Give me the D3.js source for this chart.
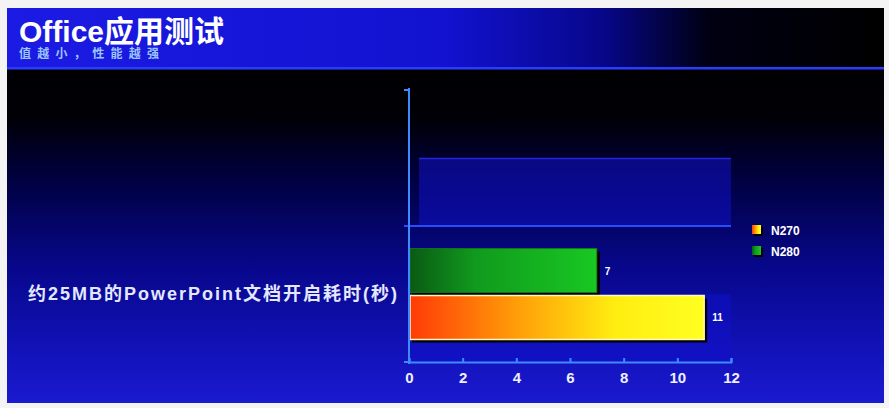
<!DOCTYPE html>
<html><head><meta charset="utf-8">
<script src="https://cdn.jsdelivr.net/npm/d3@7"></script>
<style>html,body{margin:0;padding:0;background:#f4f4f4;overflow:hidden}</style>
</head><body>
<script>
const title = "Office应用测试";
const subtitle = "值越小，性能越强";
const categories = ["", "约25MB的PowerPoint文档开启耗时(秒)"];
const seriesNames = ["N280", "N270"];
const n280 = [null, 7];
const n270 = [null, 11];
const legendOrder = ["N270", "N280"];
const xTicks = [0, 2, 4, 6, 8, 10, 12];

const W = 889, H = 408;
const svg = d3.select("body").append("svg").attr("width", W).attr("height", H)
  .style("font-family", "'Liberation Sans', Arial, 'Noto Sans CJK SC', sans-serif");
const defs = svg.append("defs");

function lin(id, x1, y1, x2, y2, stops) {
  const g = defs.append("linearGradient").attr("id", id)
    .attr("x1", x1).attr("y1", y1).attr("x2", x2).attr("y2", y2);
  stops.forEach(s => g.append("stop").attr("offset", s[0]).attr("stop-color", s[1]));
}
lin("bg", "0", "0", "0", "1", [[0, "#000000"], [0.28, "#000006"], [0.42, "#00003c"], [0.65, "#07078a"], [0.88, "#1313bc"], [1, "#1a1ad0"]]);
lin("hdr", "0", "0", "1", "0", [[0, "#1b1be4"], [0.5, "#1212d0"], [0.68, "#07078a"], [0.8, "#000012"], [1, "#000000"]]);
lin("gGreen", "0", "0", "1", "0", [[0, "#0a5a14"], [0.35, "#119a1e"], [1, "#18c822"]]);
lin("gOrange", "0", "0", "1", "0", [[0, "#ff3a08"], [0.35, "#ff9a08"], [0.7, "#ffee10"], [1, "#ffff20"]]);

// slide
svg.append("rect").attr("x", 7).attr("y", 8).attr("width", 877).attr("height", 395).attr("fill", "url(#bg)");
svg.append("rect").attr("x", 7).attr("y", 8).attr("width", 877).attr("height", 60).attr("fill", "url(#hdr)");
svg.append("rect").attr("x", 7).attr("y", 67).attr("width", 877).attr("height", 2.5).attr("fill", "#2a3cff");

svg.append("text").attr("x", 19).attr("y", 42).attr("fill", "#ffffff")
  .attr("font-size", 30).attr("font-weight", "bold").text(title);
svg.append("text").attr("x", 19).attr("y", 58).attr("fill", "#9cc4ff")
  .attr("font-size", 12).attr("font-weight", "bold").attr("textLength", 140)
  .attr("lengthAdjust", "spacing").text(subtitle);

// scales
const x = d3.scaleLinear().domain([0, 12]).range([409, 731]);
const y = d3.scaleBand().domain(categories).range([90, 362]).padding(0);
const ySub = d3.scaleBand().domain(seriesNames).range([0, y.bandwidth()])
  .paddingInner(0.064).paddingOuter(0.479);

// lighter bands (lower half of each category)
svg.append("g").selectAll("rect").data(categories).join("rect")
  .attr("x", (d, i) => i === 0 ? 419 : 411)
  .attr("y", d => y(d) + y.bandwidth() / 2)
  .attr("width", (d, i) => x(12) - (i === 0 ? 419 : 411))
  .attr("height", y.bandwidth() / 2)
  .attr("fill", "#1010c8").attr("opacity", 0.55);
svg.append("g").selectAll("line").data(categories.slice(0, 1)).join("line")
  .attr("x1", 419).attr("x2", x(12))
  .attr("y1", d => y(d) + y.bandwidth() / 2 + 0.5).attr("y2", d => y(d) + y.bandwidth() / 2 + 0.5)
  .attr("stroke", "#2424e0").attr("stroke-width", 1.5);

// category boundary line
svg.append("line").attr("x1", 404).attr("x2", x(12))
  .attr("y1", y(categories[1])).attr("y2", y(categories[1]))
  .attr("stroke", "#2a4cff").attr("stroke-width", 2);

// bars
const rows = [];
categories.forEach((c, i) => {
  if (n280[i] != null) rows.push({ c, s: "N280", v: n280[i], fill: "url(#gGreen)" });
  if (n270[i] != null) rows.push({ c, s: "N270", v: n270[i], fill: "url(#gOrange)" });
});
const bars = svg.append("g");
bars.selectAll(".sh").data(rows).join("rect").attr("class", "sh")
  .attr("x", x(0) + 3).attr("y", d => y(d.c) + ySub(d.s) + 3)
  .attr("width", d => x(d.v) - x(0)).attr("height", ySub.bandwidth())
  .attr("fill", "#000");
bars.selectAll(".bar").data(rows).join("rect").attr("class", "bar")
  .attr("x", x(0) + 1).attr("y", d => y(d.c) + ySub(d.s))
  .attr("width", d => x(d.v) - x(0) - 1).attr("height", ySub.bandwidth())
  .attr("fill", d => d.fill)
  .attr("stroke", d => d.s === "N270" ? "#fff6c0" : "#1a7a1a")
  .attr("stroke-width", d => d.s === "N270" ? 1.5 : 0.8);
bars.selectAll(".val").data(rows).join("text").attr("class", "val")
  .attr("x", d => x(d.v) + 8).attr("y", d => y(d.c) + ySub(d.s) + ySub.bandwidth() / 2 + 4)
  .attr("fill", "#ffffff").attr("font-size", 10).attr("font-weight", "bold")
  .text(d => d.v);

// y axis
svg.append("line").attr("x1", 409).attr("x2", 409).attr("y1", 88).attr("y2", 364)
  .attr("stroke", "#3c8cff").attr("stroke-width", 2);
svg.append("g").selectAll("line").data([90, 362]).join("line")
  .attr("x1", 404).attr("x2", 409).attr("y1", d => d).attr("y2", d => d)
  .attr("stroke", "#3c8cff").attr("stroke-width", 2);

// x axis
const xAxis = svg.append("g").attr("transform", "translate(0,362)")
  .call(d3.axisBottom(x).tickValues(xTicks).tickSize(-4).tickPadding(10).tickFormat(d3.format("d")));
xAxis.select(".domain").attr("stroke", "#3c8cff").attr("stroke-width", 2);
xAxis.selectAll(".tick line").attr("stroke", "#3c8cff").attr("stroke-width", 2);
xAxis.selectAll(".tick text").attr("fill", "#eef0ff").attr("font-size", 15)
  .attr("font-weight", "bold").attr("font-family", "'Liberation Sans', Arial, sans-serif");

// category label
svg.append("text").attr("x", 397).attr("y", y(categories[1]) + y.bandwidth() / 2 + 6)
  .attr("text-anchor", "end").attr("fill", "#e4e8ff").attr("font-size", 18)
  .attr("font-weight", "bold").attr("textLength", 369).attr("lengthAdjust", "spacing")
  .text(categories[1]);

// legend
const legendColors = { N270: "url(#gOrange)", N280: "url(#gGreen)" };
const lg = svg.append("g").selectAll("g").data(legendOrder).join("g")
  .attr("transform", (d, i) => `translate(752,${225 + i * 21})`);
lg.append("rect").attr("x", 2).attr("y", 2).attr("width", 9).attr("height", 9).attr("fill", "#000");
lg.append("rect").attr("width", 9).attr("height", 9).attr("fill", d => legendColors[d]);
lg.append("text").attr("x", 19).attr("y", 9.5).attr("fill", "#ffffff")
  .attr("font-size", 12).attr("font-weight", "bold").text(d => d);
</script>
</body></html>
